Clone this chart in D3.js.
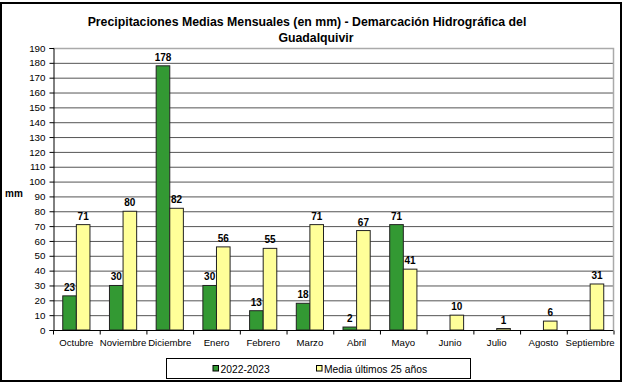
<!DOCTYPE html>
<html>
<head>
<meta charset="utf-8">
<script src="https://cdn.jsdelivr.net/npm/d3@7"></script>
<style>
  body { margin: 0; background: #fff; }
  text { font-family: "Liberation Sans", Arial, sans-serif; }
</style>
</head>
<body>
<div id="vis"></div>
<script>
const months = ["Octubre", "Noviembre", "Diciembre", "Enero", "Febrero", "Marzo",
  "Abril", "Mayo", "Junio", "Julio", "Agosto", "Septiembre"];
const season = [23, 30, 178, 30, 13, 18, 2, 71, null, null, null, null];
const average = [71, 80, 82, 56, 55, 71, 67, 41, 10, 1, 6, 31];
const yTicks = d3.range(0, 200, 10);
const seriesNames = ["2022-2023", "Media últimos 25 años"];
const seriesColors = ["#339933", "#ffff99"];

const W = 626, H = 385;
const plotLeft = 53, plotRight = 613.5, plotTop = 48, plotBottom = 330;

const svg = d3.select("#vis").append("svg")
  .attr("width", W)
  .attr("height", H);

// outer frame
svg.append("rect")
  .attr("x", 1).attr("y", 3)
  .attr("width", 620).attr("height", 378)
  .attr("fill", "#fff")
  .attr("stroke", "#000")
  .attr("stroke-width", 2);

const x = d3.scaleBand().domain(months).range([plotLeft, plotRight]);
const y = d3.scaleLinear().domain([0, 190]).range([plotBottom, plotTop]);
const barW = 13.6;

// gridlines
svg.append("g")
  .selectAll("line")
  .data(yTicks.filter(d => d > 0 && d < 190))
  .join("line")
  .attr("x1", plotLeft).attr("x2", plotRight)
  .attr("y1", d => y(d) + 0.5).attr("y2", d => y(d) + 0.5)
  .attr("stroke", "#555")
  .attr("stroke-width", 1);

// plot area border (top and right)
svg.append("path")
  .attr("d", `M${plotLeft},${plotTop + 0.5}H${plotRight}V${plotBottom}`)
  .attr("fill", "none")
  .attr("stroke", "#aaa")
  .attr("stroke-width", 1.5);

// bars
const groups = [season, average];
groups.forEach((vals, s) => {
  const rows = months.map((m, i) => ({ m, v: vals[i] })).filter(d => d.v !== null);
  svg.append("g")
    .selectAll("rect")
    .data(rows)
    .join("rect")
    .attr("x", d => x(d.m) + x.bandwidth() / 2 - barW + s * barW)
    .attr("y", d => y(d.v))
    .attr("width", barW)
    .attr("height", d => y(0) - y(d.v))
    .attr("fill", seriesColors[s])
    .attr("stroke", "#222")
    .attr("stroke-width", 1);

  svg.append("g")
    .selectAll("text")
    .data(rows)
    .join("text")
    .attr("x", d => x(d.m) + x.bandwidth() / 2 - barW / 2 + s * barW)
    .attr("y", d => y(d.v) - 5)
    .attr("text-anchor", "middle")
    .attr("font-size", "10px")
    .attr("font-weight", "bold")
    .text(d => d.v);
});

// y axis
const yAxis = svg.append("g")
  .attr("transform", `translate(${plotLeft + 0.5},0)`)
  .call(d3.axisLeft(y).tickValues(yTicks).tickSize(4).tickPadding(4));
yAxis.select(".domain").attr("stroke", "#000");
yAxis.selectAll("text").attr("font-size", "9.8px").attr("font-family", "Liberation Sans, Arial, sans-serif");

// x axis
const xAxis = svg.append("g")
  .attr("transform", `translate(0,${plotBottom + 0.5})`);
xAxis.append("line")
  .attr("x1", plotLeft).attr("x2", plotRight)
  .attr("stroke", "#000");
xAxis.selectAll("line.tick")
  .data(d3.range(0, months.length + 1))
  .join("line")
  .attr("class", "tick")
  .attr("x1", i => plotLeft + i * x.step() + 0.5)
  .attr("x2", i => plotLeft + i * x.step() + 0.5)
  .attr("y1", 0).attr("y2", 4)
  .attr("stroke", "#000");
xAxis.selectAll("text")
  .data(months)
  .join("text")
  .attr("x", d => x(d) + x.bandwidth() / 2)
  .attr("y", 15)
  .attr("text-anchor", "middle")
  .attr("font-size", "9.6px")
  .text(d => d);

// y label
svg.append("text")
  .attr("x", 5)
  .attr("y", 197)
  .attr("font-size", "10px")
  .attr("font-weight", "bold")
  .text("mm");

// title
svg.append("text")
  .attr("x", 307)
  .attr("y", 26)
  .attr("text-anchor", "middle")
  .attr("font-size", "12.3px")
  .attr("font-weight", "bold")
  .text("Precipitaciones Medias Mensuales (en mm) - Demarcación Hidrográfica del");
svg.append("text")
  .attr("x", 316)
  .attr("y", 42)
  .attr("text-anchor", "middle")
  .attr("font-size", "12.3px")
  .attr("font-weight", "bold")
  .text("Guadalquivir");

// legend
const legend = svg.append("g");
legend.append("rect")
  .attr("x", 166.5).attr("y", 358.5)
  .attr("width", 304).attr("height", 20)
  .attr("fill", "#fff")
  .attr("stroke", "#000");
const legendX = [213, 316.5];
seriesNames.forEach((name, i) => {
  legend.append("rect")
    .attr("x", legendX[i]).attr("y", 365.5)
    .attr("width", 5.5).attr("height", 5.5)
    .attr("fill", seriesColors[i])
    .attr("stroke", "#000");
  legend.append("text")
    .attr("x", legendX[i] + 7.5)
    .attr("y", 372.5)
    .attr("font-size", "10.3px")
    .text(name);
});
</script>
</body>
</html>
